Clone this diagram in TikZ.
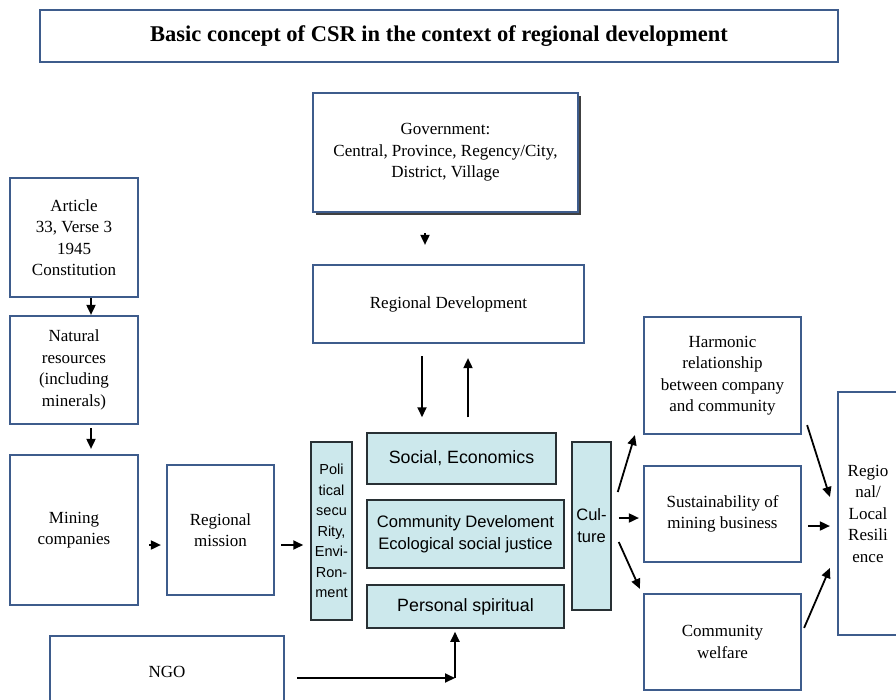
\documentclass[tikz,border=0pt]{standalone}
\usepackage{fontspec}
\setmainfont{Liberation Serif}
\setsansfont{Liberation Sans}
\usepackage{xcolor}
\usetikzlibrary{positioning,arrows.meta,calc,shadows}
\definecolor{csrblue}{RGB}{62,92,140}
\definecolor{csrcyan}{RGB}{204,232,236}
\definecolor{csrdark}{RGB}{40,48,52}
\tikzset{
  bluebox/.style={draw=csrblue, line width=2.2pt, fill=white, align=center,
                  inner sep=2pt, font=\fontsize{17}{21.5}\selectfont},
  cyanbox/.style={draw=csrdark, line width=1.5pt, fill=csrcyan, align=center,
                  inner sep=1pt, font=\sffamily\fontsize{17.8}{22}\selectfont},
  thinbar/.style={cyanbox, font=\sffamily\fontsize{14.5}{20.5}\selectfont},
  arr/.style={-{Triangle[length=10pt,width=9pt]}, line width=1.8pt, black}
}
\begin{document}
\begin{tikzpicture}[x=1pt, y=-1pt]
        \useasboundingbox (0,0) rectangle (896,699);
        \clip (0,0) rectangle (896,699);
        \node[bluebox, minimum width=798pt, minimum height=52pt,
              font=\bfseries\fontsize{22.5}{26}\selectfont] (title) at (439,36)
              {Basic concept of CSR in the context of regional development};
        \node[bluebox, minimum width=265pt, minimum height=119pt,
              drop shadow={shadow xshift=3pt, shadow yshift=-3pt, fill=black!75, opacity=1}]
              (gov) at (445.5,152.5) {Government:\\Central, Province, Regency/City,\\District, Village};
        \node[bluebox, minimum width=271pt, minimum height=78pt] (regdev) at (448.5,304) {Regional Development};
        \node[bluebox, minimum width=128pt, minimum height=119pt] (article) at (74,237.5)
              {Article\\33, Verse 3\\1945\\Constitution};
        \node[bluebox, minimum width=128pt, minimum height=108pt] (natres) at (74,370)
              {Natural\\resources\\(including\\minerals)};
        \node[bluebox, minimum width=128pt, minimum height=150pt] (mining) at (74,530) {Mining\\companies};
        \node[bluebox, minimum width=107pt, minimum height=130pt] (mission) at (220.5,530) {Regional\\mission};
        \node[thinbar, minimum width=41pt, minimum height=178pt] (polit) at (331.5,531)
              {Poli\\tical\\secu\\Rity,\\Envi-\\Ron-\\ment};
        \node[cyanbox, minimum width=189pt, minimum height=51pt] (social) at (461.5,458.5) {Social, Economics};
        \node[cyanbox, minimum width=197pt, minimum height=68pt, font=\sffamily\fontsize{16.6}{22}\selectfont]
              (commdev) at (465.5,534) {Community Develoment\\Ecological social justice};
        \node[cyanbox, minimum width=197pt, minimum height=43pt] (personal) at (465.5,606.5) {Personal spiritual};
        \node[cyanbox, minimum width=39pt, minimum height=168pt, font=\sffamily\fontsize{16.5}{22}\selectfont]
              (culture) at (591.5,526) {Cul-\\ture};
        \node[bluebox, minimum width=157pt, minimum height=117pt] (harmonic) at (722.5,375.5)
              {Harmonic\\relationship\\between company\\and community};
        \node[bluebox, minimum width=157pt, minimum height=96pt] (sustain) at (722.5,514)
              {Sustainability of\\mining business};
        \node[bluebox, minimum width=157pt, minimum height=96pt] (welfare) at (722.5,642) {Community\\welfare};
        \node[bluebox, minimum width=60pt, minimum height=243pt] (resil) at (868,513.5)
              {Regio\\nal/\\Local\\Resili\\ence};
        \node[bluebox, minimum width=234pt, minimum height=72pt] (ngo) at (167,672) {NGO};
        \coordinate (bend) at (455,678);
        \draw[arr, shorten <=20pt, shorten >=19pt] ([xshift=-20.5pt]gov.south) -- ([xshift=-23.5pt]regdev.north);
        \draw[arr, shorten <=12pt, shorten >=15pt] ([xshift=-26.5pt]regdev.south) -- ([xshift=-39.5pt]social.north);
        \draw[arr, shorten <=15pt, shorten >=14pt] ([xshift=6.5pt]social.north) -- ([xshift=19.5pt]regdev.south);
        \draw[arr] ([xshift=17pt]article.south) -- ([xshift=17pt]natres.north);
        \draw[arr, shorten <=3pt, shorten >=5pt] ([xshift=17pt]natres.south) -- ([xshift=17pt]mining.north);
        \draw[arr, shorten <=10pt, shorten >=5pt] ([yshift=-15pt]mining.east) -- ([yshift=-15pt]mission.west);
        \draw[arr, shorten <=6pt, shorten >=7pt] ([yshift=-15pt]mission.east) -- ([yshift=-14pt]polit.west);
        \draw[arr] ([xshift=6pt,yshift=34pt]culture.east) -- ([xshift=-8pt]harmonic.south west);
        \draw[arr, shorten <=7pt, shorten >=4pt] ([yshift=8pt]culture.east) -- ([yshift=-4pt]sustain.west);
        \draw[arr] ([xshift=7pt,yshift=-16pt]culture.east) -- ([xshift=-3pt,yshift=4pt]welfare.north west);
        \draw[arr] ([xshift=5pt,yshift=10pt]harmonic.south east) -- ([xshift=-7pt,yshift=16.5pt]resil.west);
        \draw[arr, shorten <=6pt, shorten >=7pt] ([yshift=-12pt]sustain.east) -- ([yshift=-12.5pt]resil.west);
        \draw[arr] ([xshift=2pt,yshift=-35pt]welfare.north east) -- ([xshift=-7pt,yshift=-54.5pt]resil.west);
        \draw[arr, shorten <=12pt] ([yshift=-6pt]ngo.east) -- (bend);
        \draw[arr, shorten >=3pt] (bend) -- (bend |- personal.south);
\end{tikzpicture}
\end{document}
